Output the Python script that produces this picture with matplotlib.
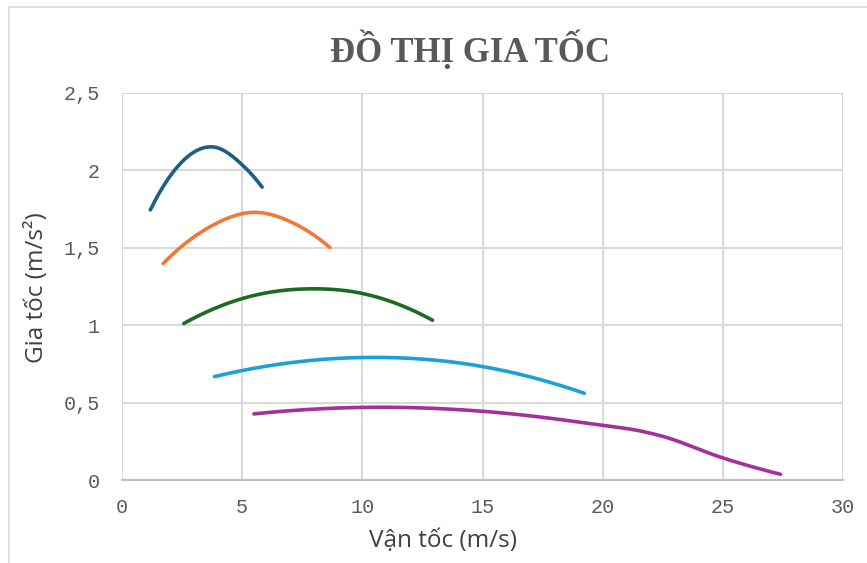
import matplotlib.pyplot as plt
import matplotlib.patches as mpatches
import numpy as np

# Measured points (velocity m/s, acceleration m/s^2) for each curve
v1 = [1.18, 2.15, 3.75, 5.07, 5.83]
a1 = [1.745, 1.994, 2.152, 2.026, 1.892]

v2 = [1.71, 3.54, 5.49, 7.29, 8.65]
a2 = [1.398, 1.625, 1.729, 1.647, 1.502]

v3 = [2.57, 5.0, 7.85, 10.0, 12.92]
a3 = [1.011, 1.172, 1.235, 1.205, 1.032]

v4 = [3.85, 5.0, 9.9, 15.0, 19.24]
a4 = [0.668, 0.707, 0.791, 0.733, 0.56]

v5 = [5.49, 10.86, 15.0, 20.0, 21.56, 22.45, 24.97, 27.4]
a5 = [0.427, 0.470, 0.444, 0.353, 0.317, 0.284, 0.144, 0.037]

series = [(v1, a1), (v2, a2), (v3, a3), (v4, a4), (v5, a5)]
colors = ["#1C5F80", "#EE7A36", "#1D6B22", "#1BA1D8", "#A3319A"]

x_ticks = [0, 5, 10, 15, 20, 25, 30]
y_ticks = [0, 0.5, 1, 1.5, 2, 2.5]


def smooth(xs, ys, n=40):
    # cubic Hermite through the points, slopes from non-uniform differences
    xs = np.asarray(xs, float)
    ys = np.asarray(ys, float)
    m = np.gradient(ys, xs, edge_order=2)
    px, py = [], []
    for i in range(len(xs) - 1):
        h = xs[i + 1] - xs[i]
        t = np.linspace(0, 1, n)
        h00 = 2 * t**3 - 3 * t**2 + 1
        h10 = t**3 - 2 * t**2 + t
        h01 = -2 * t**3 + 3 * t**2
        h11 = t**3 - t**2
        seg = h00 * ys[i] + h10 * h * m[i] + h01 * ys[i + 1] + h11 * h * m[i + 1]
        start = 0 if i == 0 else 1
        px.extend((xs[i] + t * h)[start:])
        py.extend(seg[start:])
    return np.array(px), np.array(py)


fig = plt.figure(figsize=(8.67, 5.63), dpi=100)
fig.patches.append(mpatches.Rectangle((9 / 867, -0.1), 1.2, 1 - 7 / 563 + 0.1,
                                      transform=fig.transFigure, fill=False,
                                      edgecolor="#D9D9D9", linewidth=1.2))
ax = fig.add_axes([122 / 867, 1 - 480 / 563, 721 / 867, 387 / 563])

for (xs, ys), c in zip(series, colors):
    sx, sy = smooth(xs, ys)
    ax.plot(sx, sy, color=c, linewidth=2.6, solid_capstyle="round", zorder=3)

ax.set_xlim(0, 30)
ax.set_ylim(0, 2.5)
ax.set_xticks(x_ticks)
ax.set_yticks(y_ticks)
ax.set_xticklabels([str(t) for t in x_ticks])
ax.set_yticklabels([("%g" % t).replace(".", ",") for t in y_ticks])
ax.grid(True, color="#D9D9D9", linewidth=1.5)
ax.set_axisbelow(True)
for s in ["top", "right", "left"]:
    ax.spines[s].set_visible(False)
ax.spines["bottom"].set_color("#BFBFBF")
ax.spines["bottom"].set_linewidth(1.5)
ax.tick_params(length=0, labelcolor="#595959", labelsize=14.5)
ax.tick_params(axis="x", pad=13)
ax.tick_params(axis="y", pad=16)
for lab in ax.get_xticklabels() + ax.get_yticklabels():
    lab.set_family("Liberation Mono")

fig.text(443 / 867, 1 - 541 / 563, "Vận tốc (m/s)", ha="center", va="center",
         fontsize=17.5, color="#404040", family="Open Sans")
fig.text(37 / 867, 1 - 288 / 563, "Gia tốc (m/s²)", ha="center", va="center",
         rotation=90, fontsize=17.5, color="#404040", family="Open Sans")
fig.text(470 / 867, 1 - 50 / 563, "ĐỒ THỊ GIA TỐC", ha="center", va="center",
         fontsize=25, fontweight="bold", color="#595959", family="Liberation Serif")

fig.savefig("out.png", dpi=100)
